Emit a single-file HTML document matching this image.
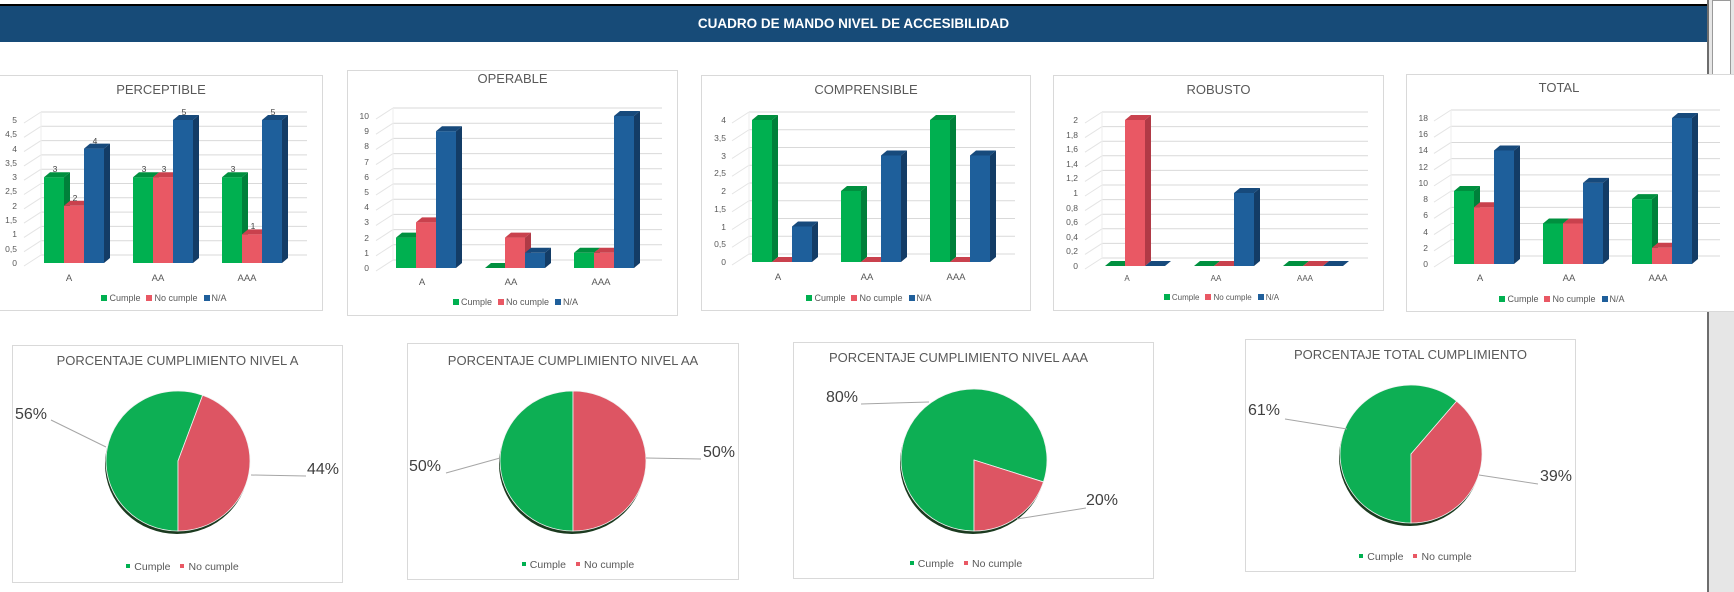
<!DOCTYPE html>
<html><head><meta charset="utf-8">
<style>
body{margin:0;width:1734px;height:592px;background:#fff;position:relative;overflow:hidden;font-family:"Liberation Sans",Arial,sans-serif;}
.abs{position:absolute}
#hdr{left:0;top:6px;width:1707px;height:36px;background:#174b78;color:#fff;font-weight:bold;font-size:13.5px;text-align:center;line-height:36px;}
#topline{left:0;top:4px;width:1707px;height:2px;background:#000}
.box{position:absolute;border:1px solid #d9d9d9;background:#fff;box-sizing:border-box;overflow:hidden}
.ttl{position:absolute;left:0;right:0;text-align:center;font-size:13px;color:#595959;white-space:nowrap}
.tk{position:absolute;display:flex;flex-direction:column;justify-content:space-between;text-align:right;font-size:8.5px;color:#595959;line-height:10px;width:20px}
.cat{position:absolute;font-size:9.5px;color:#595959;transform:translateX(-50%)}
.leg{position:absolute;left:0;right:0;text-align:center;font-size:9px;color:#595959;white-space:nowrap}
.leg i{display:inline-block;width:6px;height:6px;margin:0 2px 0 6px;vertical-align:0}
.dl{position:absolute;font-size:8.5px;color:#404040;transform:translateX(-50%)}
.pl{position:absolute;font-size:16px;color:#404040}
.pleg{position:absolute;left:0;right:0;text-align:center;font-size:10.5px;color:#595959}
.pleg i{display:inline-block;width:4px;height:4px;margin:0 4px 0 10px;vertical-align:2px}
svg{position:absolute;left:0;top:0}
</style></head><body>
<div id="topline" class="abs"></div>
<div id="hdr" class="abs">CUADRO DE MANDO NIVEL DE ACCESIBILIDAD</div>
<div class="abs" style="left:1707px;top:0;width:27px;height:592px;background:#e6e6e6;border-left:2px solid #6d6d6d;box-sizing:border-box"></div>
<div class="abs" style="left:1712px;top:0;width:19px;height:303px;background:#fff;border:1px solid #9a9a9a;box-sizing:border-box"></div>

<div class="box" id="c0" style="left:-1px;top:75px;width:324px;height:236px">
<div class="ttl" style="top:6px">PERCEPTIBLE</div>
<div class="tk" style="left:-3px;top:39px;height:153px"><span>5</span><span>4,5</span><span>4</span><span>3,5</span><span>3</span><span>2,5</span><span>2</span><span>1,5</span><span>1</span><span>0,5</span><span>0</span></div>
<div class="cat" style="left:69px;top:197px">A</div><div class="cat" style="left:158px;top:197px">AA</div><div class="cat" style="left:247px;top:197px">AAA</div>
<div class="leg" style="top:217px"><i style="background:#00b050"></i>Cumple<i style="background:#e95864"></i>No cumple<i style="background:#1f5f9b"></i>N/A</div>
<div class="dl" style="left:55px;top:88px">3</div><div class="dl" style="left:75px;top:117px">2</div><div class="dl" style="left:95px;top:60px">4</div>
<div class="dl" style="left:144px;top:88px">3</div><div class="dl" style="left:164px;top:88px">3</div><div class="dl" style="left:184px;top:31px">5</div>
<div class="dl" style="left:233px;top:88px">3</div><div class="dl" style="left:253px;top:145px">1</div><div class="dl" style="left:273px;top:31px">5</div>
</div>
<div class="box" id="c1" style="left:347px;top:70px;width:331px;height:246px">
<div class="ttl" style="top:0px">OPERABLE</div>
<div class="tk" style="left:1px;top:40px;height:162px"><span>10</span><span>9</span><span>8</span><span>7</span><span>6</span><span>5</span><span>4</span><span>3</span><span>2</span><span>1</span><span>0</span></div>
<div class="cat" style="left:74px;top:206px">A</div><div class="cat" style="left:163px;top:206px">AA</div><div class="cat" style="left:253px;top:206px">AAA</div>
<div class="leg" style="top:226px"><i style="background:#00b050"></i>Cumple<i style="background:#e95864"></i>No cumple<i style="background:#1f5f9b"></i>N/A</div>
</div>
<div class="box" id="c2" style="left:701px;top:75px;width:330px;height:236px">
<div class="ttl" style="top:6px">COMPRENSIBLE</div>
<div class="tk" style="left:4px;top:39px;height:152px"><span>4</span><span>3,5</span><span>3</span><span>2,5</span><span>2</span><span>1,5</span><span>1</span><span>0,5</span><span>0</span></div>
<div class="cat" style="left:76px;top:196px">A</div><div class="cat" style="left:165px;top:196px">AA</div><div class="cat" style="left:254px;top:196px">AAA</div>
<div class="leg" style="top:217px"><i style="background:#00b050"></i>Cumple<i style="background:#e95864"></i>No cumple<i style="background:#1f5f9b"></i>N/A</div>
</div>
<div class="box" id="c3" style="left:1053px;top:75px;width:331px;height:236px">
<div class="ttl" style="top:6px">ROBUSTO</div>
<div class="tk" style="left:4px;top:39px;height:156px"><span>2</span><span>1,8</span><span>1,6</span><span>1,4</span><span>1,2</span><span>1</span><span>0,8</span><span>0,6</span><span>0,4</span><span>0,2</span><span>0</span></div>
<div class="cat" style="left:73px;top:198px;font-size:8px">A</div><div class="cat" style="left:162px;top:198px;font-size:8px">AA</div><div class="cat" style="left:251px;top:198px;font-size:8px">AAA</div>
<div class="leg" style="top:217px;font-size:8px"><i style="background:#00b050"></i>Cumple<i style="background:#e95864"></i>No cumple<i style="background:#1f5f9b"></i>N/A</div>
</div>
<div class="box" id="c4" style="left:1406px;top:74px;width:330px;height:238px">
<div class="ttl" style="top:5px;right:24px">TOTAL</div>
<div class="tk" style="left:1px;top:38px;height:156px"><span>18</span><span>16</span><span>14</span><span>12</span><span>10</span><span>8</span><span>6</span><span>4</span><span>2</span><span>0</span></div>
<div class="cat" style="left:73px;top:198px">A</div><div class="cat" style="left:162px;top:198px">AA</div><div class="cat" style="left:251px;top:198px">AAA</div>
<div class="leg" style="top:219px;right:24px"><i style="background:#00b050"></i>Cumple<i style="background:#e95864"></i>No cumple<i style="background:#1f5f9b"></i>N/A</div>
</div>

<div class="box" id="p0" style="left:12px;top:345px;width:331px;height:238px">
<div class="ttl" style="top:7px">PORCENTAJE CUMPLIMIENTO NIVEL A</div>
<div class="pl" style="left:2px;top:60px">56%</div><div class="pl" style="left:294px;top:115px">44%</div>
<div class="pleg" style="top:215px"><i style="background:#00b050"></i>Cumple<i style="background:#e95864"></i>No cumple</div>
</div>
<div class="box" id="p1" style="left:407px;top:343px;width:332px;height:237px">
<div class="ttl" style="top:9px">PORCENTAJE CUMPLIMIENTO NIVEL AA</div>
<div class="pl" style="left:1px;top:114px">50%</div><div class="pl" style="left:295px;top:100px">50%</div>
<div class="pleg" style="top:215px"><i style="background:#00b050"></i>Cumple<i style="background:#e95864"></i>No cumple</div>
</div>
<div class="box" id="p2" style="left:793px;top:342px;width:361px;height:237px">
<div class="ttl" style="top:7px;right:30px">PORCENTAJE CUMPLIMIENTO NIVEL AAA</div>
<div class="pl" style="left:32px;top:46px">80%</div><div class="pl" style="left:292px;top:149px">20%</div>
<div class="pleg" style="top:215px;right:25px"><i style="background:#00b050"></i>Cumple<i style="background:#e95864"></i>No cumple</div>
</div>
<div class="box" id="p3" style="left:1245px;top:339px;width:331px;height:233px">
<div class="ttl" style="top:7px">PORCENTAJE TOTAL CUMPLIMIENTO</div>
<div class="pl" style="left:2px;top:62px">61%</div><div class="pl" style="left:294px;top:128px">39%</div>
<div class="pleg" style="top:211px"><i style="background:#00b050"></i>Cumple<i style="background:#e95864"></i>No cumple</div>
</div>

<script>
var NS="http://www.w3.org/2000/svg";
function mk(box,w,h){var s=document.createElementNS(NS,"svg");s.setAttribute("width",w);s.setAttribute("height",h);box.insertBefore(s,box.firstChild);return s;}
function el(s,t,a){var e=document.createElementNS(NS,t);for(var k in a)e.setAttribute(k,a[k]);s.appendChild(e);return e;}
var charts=[
 {id:"c0",x0:44,base:187,top:44,max:5,step:0.5,data:[[3,2,4],[3,3,5],[3,1,5]]},
 {id:"c1",x0:48,base:197,top:45,max:10,step:1,data:[[2,3,9],[0,2,1],[1,1,10]]},
 {id:"c2",x0:50,base:186,top:44,max:4,step:0.5,data:[[4,0,1],[2,0,3],[4,0,3]]},
 {id:"c3",x0:51,base:190,top:44,max:2,step:0.2,data:[[0,2,0],[0,0,1],[0,0,0]]},
 {id:"c4",x0:47,base:189,top:43,max:18,step:2,data:[[9,7,14],[5,5,10],[8,2,18]]}
];
var cols=[["#00b050","#00803a","#00903f"],["#e95864","#b03a46","#c9414d"],["#1e5f9b","#133c66","#174a7c"]];
charts.forEach(function(c){
 var b=document.getElementById(c.id),W=b.offsetWidth,H=b.offsetHeight;
 var s=mk(b,W,H);
 var sc=(c.base-c.top)/c.max;
 var n=Math.round(c.max/c.step);
 for(var i=0;i<=n;i++){
  var y=c.base-i*c.step*sc;
  el(s,"line",{x1:c.x0-3,y1:y-8,x2:W-17,y2:y-8,stroke:"#d9d9d9","stroke-width":1});
  el(s,"line",{x1:c.x0-20,y1:y+3,x2:c.x0-3,y2:y-8,stroke:"#e4e4e4","stroke-width":1});
 }
 el(s,"line",{x1:c.x0-3,y1:c.base-8-c.max*sc-0,x2:c.x0-3,y2:c.base-8,stroke:"#eeeeee"});
 c.data.forEach(function(g,gi){
  g.forEach(function(v,si){
   var x=c.x0+gi*89+si*20,y=c.base-v*sc,w=20,dx=6,dy=5,col=cols[si];
   if(v>0){
    el(s,"polygon",{points:[x+w,y,x+w+dx,y-dy,x+w+dx,c.base-dy,x+w,c.base].join(","),fill:col[1]});
    el(s,"rect",{x:x,y:y,width:w,height:v*sc,fill:col[0]});
   }
   el(s,"polygon",{points:[x,y,x+dx,y-dy,x+w+dx,y-dy,x+w,y].join(","),fill:col[2]});
  });
 });
});
var pies=[
 {id:"p0",cx:165,cy:115,rx:72,ry:70,a:20,lines:[[38,74,93,101],[238,129,293,130]]},
 {id:"p1",cx:165,cy:117,rx:73,ry:70,a:0,lines:[[38,129,92,114],[238,114,293,115]]},
 {id:"p2",cx:180,cy:117,rx:73,ry:71,a:108,lines:[[67,61,135,59],[292,165,223,176]]},
 {id:"p3",cx:165,cy:114,rx:71,ry:69,a:40,lines:[[39,79,101,89],[292,144,233,135]]}
];
function pt(p,a){var r=a*Math.PI/180;return [p.cx+p.rx*Math.sin(r),p.cy-p.ry*Math.cos(r)];}
pies.forEach(function(p){
 var b=document.getElementById(p.id),s=mk(b,b.offsetWidth,b.offsetHeight);
 el(s,"ellipse",{cx:p.cx-1,cy:p.cy+3,rx:p.rx,ry:p.ry,fill:"#1b3a1f"});
 function slice(a1,a2,f){var p1=pt(p,a1),p2=pt(p,a2),lg=(a2-a1)>180?1:0;
  el(s,"path",{d:"M"+p.cx+","+p.cy+"L"+p1+"A"+p.rx+","+p.ry+" 0 "+lg+" 1 "+p2+"Z",fill:f,stroke:"#f2f2f2","stroke-width":0.8});}
 slice(180,360+p.a,"#0daf54");
 slice(p.a,180,"#dd5563");
 p.lines.forEach(function(l){el(s,"line",{x1:l[0],y1:l[1],x2:l[2],y2:l[3],stroke:"#a6a6a6","stroke-width":1});});
});
</script>
</body></html>
